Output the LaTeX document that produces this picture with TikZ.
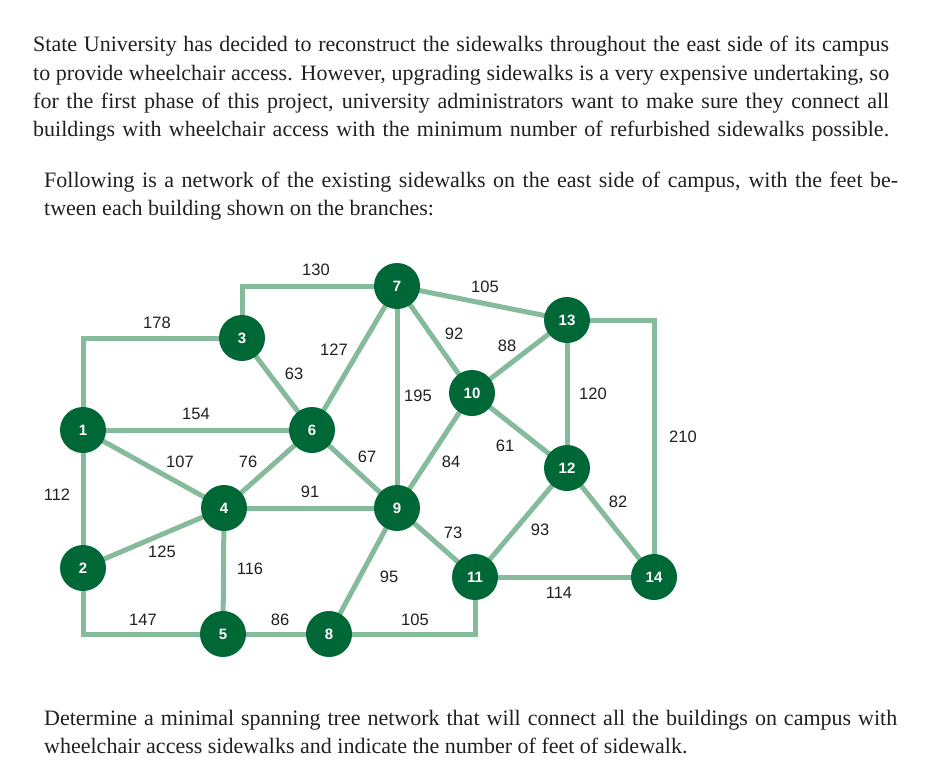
\documentclass[tikz,border=0pt]{standalone}
\usepackage{fontspec}
\setmainfont{Liberation Serif}
\newfontfamily\labfont{Liberation Sans}
\definecolor{edgegreen}{RGB}{133,187,155}
\definecolor{nodegreen}{RGB}{0,104,55}
\definecolor{txt}{RGB}{35,31,32}
\newcommand{\jline}[2]{\makebox[#1][s]{#2}}
\begin{document}
\begin{tikzpicture}[x=1pt,y=-1pt,
  bnode/.style={circle,fill=nodegreen,minimum size=46pt,inner sep=0pt,text=white,font=\labfont\fontsize{15}{15}\selectfont\bfseries},
  walk/.style={draw=edgegreen,line width=5pt},
  wlab/.style={font=\labfont\fontsize{16.5}{16.5}\selectfont,text=txt,inner sep=0pt},
  para/.style={anchor=base west,inner sep=0pt,text=txt,font=\fontsize{22}{22}\selectfont}]
\useasboundingbox (0,0) rectangle (939,768);
% paragraphs
\node[para] (p1) at (33,52) {\jline{856pt}{State University has decided to reconstruct the sidewalks throughout the east side of its campus}};
\node[para] (p2) at (33,80) {\jline{856pt}{to provide wheelchair access. However, upgrading sidewalks is a very expensive undertaking, so}};
\node[para] (p3) at (33,108) {\jline{856pt}{for the first phase of this project, university administrators want to make sure they connect all}};
\node[para] (p4) at (33,136) {\jline{856pt}{buildings with wheelchair access with the minimum number of refurbished sidewalks possible.}};
\node[para] (q1) at (44,187) {\jline{854pt}{Following is a network of the existing sidewalks on the east side of campus, with the feet be-}};
\node[para] (q2) at (44,215) {tween each building shown on the branches:};
\node[para] (r1) at (44,725) {\jline{853pt}{Determine a minimal spanning tree network that will connect all the buildings on campus with}};
\node[para] (r2) at (44,753) {wheelchair access sidewalks and indicate the number of feet of sidewalk.};
% nodes
\coordinate (c1) at (83,430);
\coordinate (c2) at (83,568);
\coordinate (c3) at (242,338);
\coordinate (c4) at (224,508);
\coordinate (c5) at (223,634);
\coordinate (c6) at (312,430);
\coordinate (c7) at (397,286);
\coordinate (c8) at (329,634);
\coordinate (c9) at (397,508);
\coordinate (c10) at (472,393);
\coordinate (c11) at (475,577);
\coordinate (c12) at (567,468);
\coordinate (c13) at (567,320);
\coordinate (c14) at (654,577);
% edges
\draw[walk] (c1) |- (c3);
\draw[walk] (c3) |- (c7);
\draw[walk] (c1) -- (c6);
\draw[walk] (c1) -- (c4);
\draw[walk] (c1) -- (c2);
\draw[walk] (c3) -- (c6);
\draw[walk] (c6) -- (c7);
\draw[walk] (c6) -- (c4);
\draw[walk] (c6) -- (c9);
\draw[walk] (c4) -- (c9);
\draw[walk] (c4) -- (c2);
\draw[walk] (c4) -- (c5);
\draw[walk] (c2) |- (c5);
\draw[walk] (c5) -- (c8);
\draw[walk] (c8) -- (c9);
\draw[walk] (c8) -| (c11);
\draw[walk] (c7) -- (c9);
\draw[walk] (c7) -- (c10);
\draw[walk] (c7) -- (c13);
\draw[walk] (c10) -- (c13);
\draw[walk] (c10) -- (c9);
\draw[walk] (c10) -- (c12);
\draw[walk] (c13) -- (c12);
\draw[walk] (c13) -| (c14);
\draw[walk] (c12) -- (c14);
\draw[walk] (c12) -- (c11);
\draw[walk] (c9) -- (c11);
\draw[walk] (c11) -- (c14);
% building nodes
\foreach \i in {1,...,14} \node[bnode] (n\i) at (c\i) {\i};
% labels
\node[wlab] (l178) at (157,323) {178};
\node[wlab] (l130) at (316,270) {130};
\node[wlab] (l154) at (196,414) {154};
\node[wlab] (l107) at (180,462) {107};
\node[wlab] (l112) at (57,495) {112};
\node[wlab] (l63) at (294,374) {63};
\node[wlab] (l127) at (334,350) {127};
\node[wlab] (l76) at (248,462) {76};
\node[wlab] (l67) at (367,457) {67};
\node[wlab] (l91) at (310,492) {91};
\node[wlab] (l125) at (162,552) {125};
\node[wlab] (l116) at (250,569) {116};
\node[wlab] (l147) at (143,620) {147};
\node[wlab] (l86) at (280,620) {86};
\node[wlab] (l95) at (389,577) {95};
\node[wlab] (l105a) at (415,620) {105};
\node[wlab] (l195) at (418,396) {195};
\node[wlab] (l92) at (454,334) {92};
\node[wlab] (l105b) at (485,287) {105};
\node[wlab] (l88) at (507,346) {88};
\node[wlab] (l84) at (451,462) {84};
\node[wlab] (l61) at (505,446) {61};
\node[wlab] (l120) at (593,394) {120};
\node[wlab] (l210) at (683,437) {210};
\node[wlab] (l82) at (618,502) {82};
\node[wlab] (l93) at (540,530) {93};
\node[wlab] (l73) at (453,533) {73};
\node[wlab] (l114) at (559,593) {114};
\end{tikzpicture}
\end{document}
